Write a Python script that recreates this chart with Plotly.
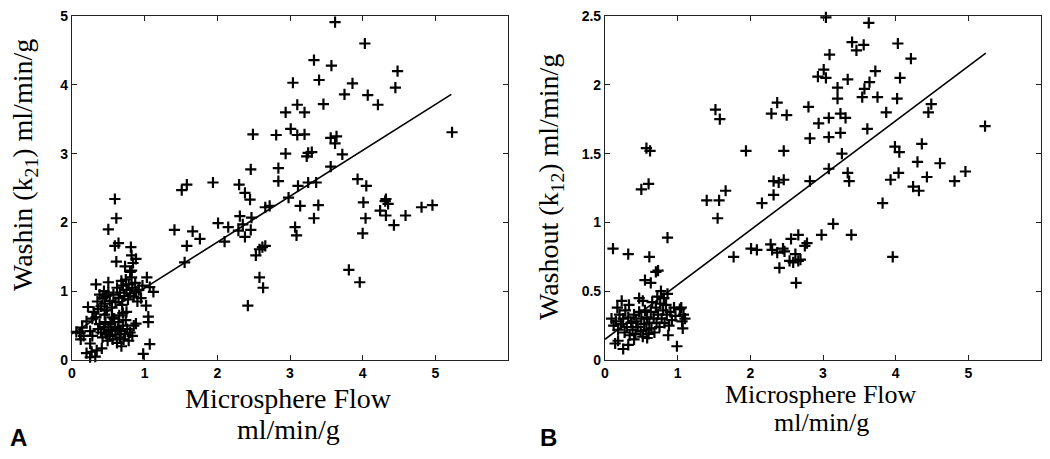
import plotly.graph_objects as go

W, H = 1050, 459
OFF = 8  # page body margin of the browser

# ---------------- Panel A: Washin (k21) ----------------
a_x = [0.59,0.61,0.50,0.59,0.64,0.61,0.81,0.82,0.88,0.84,0.82,0.73,
       1.41,1.66,1.58,1.76,1.55,1.51,1.58,1.94,
       2.01,2.10,2.15,2.31,2.29,2.35,2.38,2.46,2.47,2.53,2.58,2.62,2.66,2.58,2.63,2.42,2.66,2.72,
       2.30,2.38,2.45,2.46,2.49,2.81,2.84,2.84,2.94,2.94,3.01,3.04,3.10,3.10,3.20,3.20,3.23,3.25,
       3.30,3.33,3.40,3.46,3.56,3.57,3.62,3.62,3.64,3.72,3.75,3.86,3.56,3.93,3.11,3.25,3.36,2.98,
       3.14,3.07,3.09,3.39,3.33,4.03,4.48,4.45,4.07,4.21,5.23,4.05,4.32,4.01,4.04,4.00,4.24,4.31,
       4.35,4.32,4.43,4.59,4.81,4.96,3.81,3.96,
       1.03,1.07,1.02,1.05,1.05,1.07,0.98,0.88,0.33,0.50,0.22,0.11,0.25,0.20,0.27,0.34,0.41,0.25,
       0.28,0.80,1.12,0.06,0.25,0.32,
       0.35,0.38,0.40,0.42,0.44,0.45,0.47,0.48,0.50,0.52,0.55,0.57,0.60,0.62,0.64,0.66,0.68,0.69,
       0.70,0.72,0.74,0.75,0.77,0.78,0.80,0.82,0.83,0.85,0.87,0.88,0.90,0.92,0.95,0.97,0.30,0.33,0.36,
       0.36,0.38,0.40,0.42,0.44,0.46,0.47,0.49,0.50,0.52,0.53,0.55,0.56,0.58,0.59,0.60,0.62,0.63,
       0.64,0.66,0.67,0.68,0.70,0.71,0.73,0.74,0.76,0.78,0.80,0.83,0.85,0.65,0.70,0.75,0.55,0.45,
       0.16,0.14,0.20,0.28,0.12]
a_y = [2.34,2.06,1.90,1.66,1.70,1.43,1.64,1.52,1.47,1.41,1.30,1.36,
       1.89,1.87,1.66,1.76,1.42,2.47,2.55,2.58,
       1.99,1.72,1.93,2.09,1.88,1.97,1.79,1.89,2.07,1.52,1.61,1.64,1.66,1.20,1.05,0.79,2.22,2.24,
       2.55,2.43,2.33,2.77,3.28,3.27,2.79,2.60,3.00,3.60,3.36,4.03,3.71,3.27,3.60,3.28,2.96,3.01,
       3.02,4.36,4.07,3.72,3.23,4.28,4.91,3.15,3.25,2.99,3.86,4.02,2.81,2.63,2.53,2.58,2.58,2.36,
       2.24,1.93,1.81,2.25,2.06,4.60,4.20,3.96,3.85,3.71,3.31,2.53,2.34,2.29,2.06,1.84,2.17,2.31,
       2.27,2.10,1.96,2.10,2.22,2.25,1.31,1.13,
       1.20,1.06,0.79,0.63,0.55,0.23,0.09,0.53,1.10,1.13,0.77,0.39,0.24,0.10,0.12,0.14,0.17,0.42,
       0.35,1.28,0.99,0.41,0.04,0.05,
       0.85,0.95,0.78,0.90,1.00,0.82,0.93,0.72,0.98,0.86,0.76,0.95,0.84,1.05,0.90,0.98,1.15,0.80,
       1.08,0.93,1.17,1.02,0.88,1.10,0.97,1.20,1.05,0.92,1.12,0.99,0.85,1.02,0.90,1.08,0.70,0.62,0.74,
       0.45,0.52,0.40,0.33,0.48,0.55,0.38,0.28,0.44,0.35,0.52,0.42,0.30,0.60,0.48,0.37,0.25,0.45,
       0.55,0.33,0.42,0.20,0.50,0.30,0.38,0.58,0.45,0.28,0.40,0.35,0.50,0.65,0.68,0.70,0.62,0.66,
       0.35,0.47,0.56,0.60,0.30]
a_fit_x = [0.0, 5.22]
a_fit_y = [0.38, 3.86]

# ---------------- Panel B: Washout (k12) ----------------
b_x = [0.50,0.60,0.57,0.62,1.52,1.58,1.66,1.57,1.40,1.94,2.29,2.37,2.50,2.46,2.32,2.39,2.46,2.32,
       2.80,2.94,2.82,2.82,2.93,3.01,3.04,3.09,3.04,3.08,3.08,3.08,3.63,3.40,3.46,3.56,4.03,4.21,
       3.34,3.72,3.64,3.57,4.06,3.20,3.20,3.54,3.75,4.02,3.24,3.31,3.87,4.49,4.45,3.24,3.61,5.23,
       3.26,3.34,3.36,3.99,4.05,4.36,4.30,4.61,4.04,3.93,4.43,4.96,4.81,4.24,4.32,3.82,3.14,2.98,
       3.39,2.75,2.78,3.96,2.69,1.55,2.16,0.86,0.11,0.32,0.61,0.70,0.73,0.55,0.63,1.77,2.01,2.09,
       2.28,2.30,2.37,2.45,2.47,2.40,2.56,2.66,2.62,2.54,2.59,2.66,2.63,
       0.23,0.47,0.52,0.09,1.03,1.06,1.07,0.87,0.14,0.25,0.32,0.99,0.18,1.05,1.08,1.10,
       0.15,0.18,0.20,0.22,0.25,0.27,0.28,0.30,0.32,0.34,0.36,0.38,0.40,0.42,0.43,0.45,0.47,0.49,
       0.50,0.52,0.54,0.55,0.57,0.58,0.60,0.61,0.63,0.64,0.65,0.67,0.68,0.70,0.71,0.72,0.73,0.75,
       0.76,0.77,0.78,0.80,0.81,0.82,0.84,0.85,0.86,0.88,0.90,0.92,0.95,0.97,0.12,0.17,0.33,0.40,0.58]
b_y = [1.24,1.28,1.54,1.52,1.82,1.75,1.23,1.16,1.16,1.52,1.79,1.87,1.78,1.52,1.30,1.29,1.31,1.20,
       1.84,1.72,1.61,1.30,2.06,2.11,2.05,2.22,2.49,1.76,1.62,1.39,2.45,2.31,2.25,2.29,2.30,2.19,
       2.04,2.10,2.02,1.97,2.05,1.98,1.90,1.91,1.91,1.90,1.79,1.76,1.80,1.86,1.80,1.65,1.68,1.70,
       1.50,1.36,1.30,1.55,1.51,1.57,1.44,1.43,1.36,1.31,1.33,1.37,1.30,1.26,1.23,1.14,0.99,0.91,
       0.91,0.83,0.85,0.75,0.73,1.03,1.14,0.89,0.81,0.77,0.75,0.64,0.65,0.58,0.56,0.75,0.81,0.80,
       0.84,0.80,0.78,0.81,0.79,0.67,0.88,0.91,0.77,0.72,0.71,0.72,0.56,
       0.43,0.45,0.43,0.30,0.37,0.28,0.23,0.18,0.12,0.08,0.11,0.10,0.14,0.38,0.33,0.30,
       0.28,0.22,0.33,0.26,0.30,0.20,0.36,0.24,0.31,0.18,0.27,0.22,0.33,0.19,0.28,0.24,0.35,0.21,
       0.30,0.17,0.26,0.36,0.22,0.31,0.19,0.27,0.35,0.23,0.42,0.30,0.20,0.38,0.27,0.46,0.33,0.24,
       0.41,0.50,0.30,0.36,0.45,0.27,0.40,0.33,0.48,0.25,0.35,0.29,0.38,0.32,0.25,0.38,0.40,0.15,0.16]
b_fit_x = [0.0, 5.24]
b_fit_y = [0.15, 2.23]

x_ticks = [0, 1, 2, 3, 4, 5]
a_y_ticks = [0, 1, 2, 3, 4, 5]
b_y_ticks = [0, 0.5, 1, 1.5, 2, 2.5]
b_y_labels = ["0", "0.5", "1", "1.5", "2", "2.5"]

marker = dict(symbol="cross-thin", size=8, color="black", line=dict(color="black", width=2.2))

fig = go.Figure()
fig.add_trace(go.Scatter(x=a_x, y=a_y, mode="markers", marker=marker, xaxis="x", yaxis="y",
                         showlegend=False, cliponaxis=False))
fig.add_trace(go.Scatter(x=a_fit_x, y=a_fit_y, mode="lines", line=dict(color="black", width=1.6),
                         xaxis="x", yaxis="y", showlegend=False))
fig.add_trace(go.Scatter(x=b_x, y=b_y, mode="markers", marker=marker, xaxis="x2", yaxis="y2",
                         showlegend=False, cliponaxis=False))
fig.add_trace(go.Scatter(x=b_fit_x, y=b_fit_y, mode="lines", line=dict(color="black", width=1.6),
                         xaxis="x2", yaxis="y2", showlegend=False))

tickfont = dict(family="Liberation Sans, Arial", size=14, color="black", weight="bold")
ax_common = dict(showline=True, linecolor="#222", linewidth=1.2, mirror="ticks", ticks="inside",
                 ticklen=5, tickcolor="#222", showgrid=False, zeroline=False, tickfont=tickfont,
                 automargin=False, ticklabeloverflow="allow")

def px_x(p):
    return (p - OFF) / W

def px_y(p):
    return 1 - (p - OFF) / H

ydom = [px_y(360), px_y(16)]
fig.update_layout(
    width=W, height=H, margin=dict(l=0, r=0, t=0, b=0, pad=0, autoexpand=False),
    plot_bgcolor="white", paper_bgcolor="white",
    xaxis=dict(domain=[px_x(72), px_x(508)], range=[0, 6], tickvals=x_ticks, anchor="y", **ax_common),
    yaxis=dict(domain=ydom, range=[0, 5], tickvals=a_y_ticks, anchor="x", **ax_common),
    xaxis2=dict(domain=[px_x(605), px_x(1041)], range=[0, 6], tickvals=x_ticks, anchor="y2", **ax_common),
    yaxis2=dict(domain=ydom, range=[0, 2.5], tickvals=b_y_ticks, ticktext=b_y_labels, anchor="x2", **ax_common),
)

serif = dict(family="Liberation Serif, Times New Roman", size=28, color="black")
serif_b = dict(family="Liberation Serif, Times New Roman", size=26, color="black")
def ann(text, x, y, font, angle=0):
    fig.add_annotation(text=text, x=px_x(x), y=px_y(y), xref="paper", yref="paper",
                       showarrow=False, xanchor="center", yanchor="middle", font=font, textangle=angle)

ann("Washin (k<sub>21</sub>) ml/min/g", 24, 165, serif, -90)
ann("Washout (k<sub>12</sub>) ml/min/g", 550, 187, serif, -90)
ann("Microsphere Flow", 288, 398, serif)
ann("ml/min/g", 288, 429, serif)
ann("Microsphere Flow", 821, 394, serif_b)
ann("ml/min/g", 821, 422, serif_b)
label_font = dict(family="Liberation Sans, Arial", size=24, color="black", weight="bold")
ann("A", 18, 437, label_font)
ann("B", 548, 437, label_font)

fig.write_html("out.html")
